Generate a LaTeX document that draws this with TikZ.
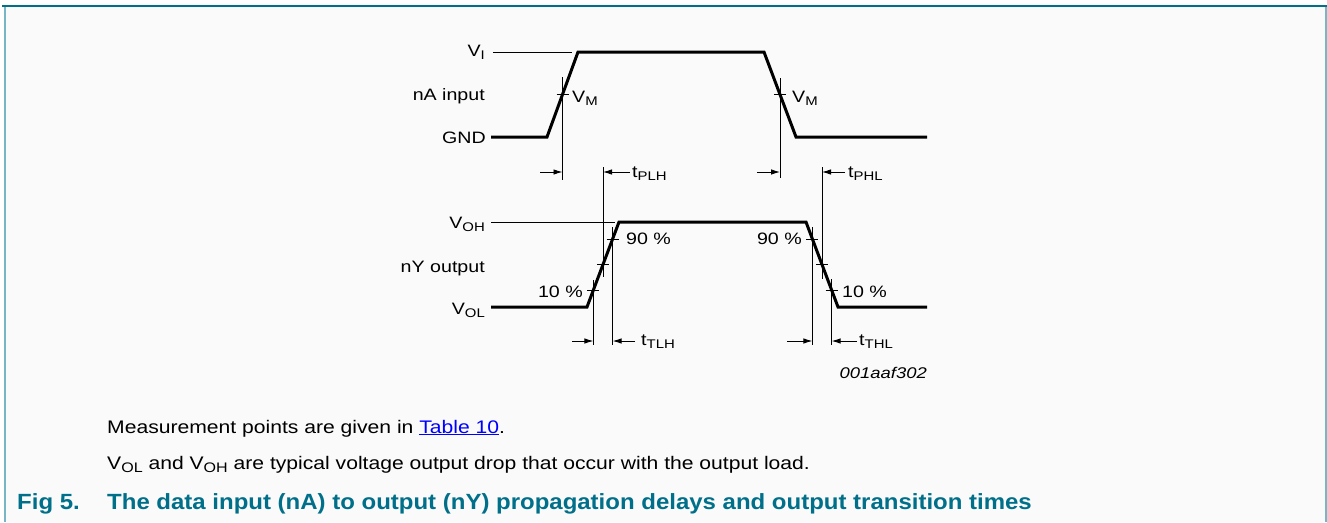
\documentclass[tikz,border=0pt]{standalone}
\usepackage{fontspec}
\setmainfont{Liberation Sans}
\newfontfamily\lblf{Liberation Sans}[FakeStretch=1.19]
\newfontfamily\txtf{Liberation Sans}[FakeStretch=1.16]
\newfontfamily\capf{Liberation Sans}[FakeStretch=1.09]
\usetikzlibrary{arrows.meta,calc}
\definecolor{nxpteal}{RGB}{0,112,138}
\definecolor{edgelight}{RGB}{120,182,198}
\definecolor{linkblue}{RGB}{0,0,255}
\definecolor{panel}{RGB}{250,250,250}
\newcommand\sbx[1]{\raisebox{-0.2em}{\scalebox{0.76}{#1}}}
\begin{document}
\begin{tikzpicture}[x=1pt,y=-1pt,
  wave/.style={line width=3pt, line join=miter},
  thinln/.style={line width=0.9pt},
  meas/.style={line width=0.9pt, -{Latex[length=9pt,width=5.5pt]}},
  lbl/.style={inner sep=0pt, font=\lblf\fontsize{16.5}{18}\selectfont},
  txt/.style={inner sep=0pt, font=\txtf\fontsize{18.2}{20}\selectfont, anchor=base west},
  capt/.style={inner sep=0pt, font=\capf\bfseries\fontsize{22}{24}\selectfont, text=nxpteal, anchor=base west}]
\useasboundingbox (0,0) rectangle (1327,522);
\fill[white] (0,0) rectangle (1327,522);
\fill[panel] (5,6) rectangle (1326,522);
\draw[edgelight, line width=1.5pt] (5,6) -- (5,522);
\draw[edgelight, line width=2pt] (1325.5,6) -- (1325.5,522);
\draw[nxpteal, line width=2pt] (2,6) -- (1327,6);

% input waveform
\coordinate (a0) at (491,137);
\coordinate (a1) at (547,137);
\coordinate (a2) at (578,52);
\coordinate (a3) at (764,52);
\coordinate (a4) at (796,137);
\coordinate (a5) at (927,137);
\coordinate (vi0) at (493,52);
\coordinate (vi1) at (572,52);
\draw[thinln] (vi0) -- (vi1);
\draw[wave] (a0) -- (a1) -- (a2) -- (a3) -- (a4) -- (a5);
\coordinate (m1) at ($(a1)!0.5!(a2)$);
\coordinate (m2) at ($(a3)!0.5!(a4)$);
\draw[thinln] (m1 |- 0,77) -- (m1 |- 0,180);
\draw[thinln] (m2 |- 0,78) -- (m2 |- 0,178);
\draw[thinln] ($(m1)+(-6,0)$) -- ($(m1)+(6,0)$);
\draw[thinln] ($(m2)+(-6,0)$) -- ($(m2)+(6,0)$);

% output waveform
\coordinate (b0) at (491,307);
\coordinate (b1) at (587,307);
\coordinate (b2) at (619,222);
\coordinate (b3) at (806,222);
\coordinate (b4) at (838,307);
\coordinate (b5) at (927,307);
\coordinate (vo0) at (491,222);
\coordinate (vo1) at (615,222);
\draw[thinln] (vo0) -- (vo1);
\draw[wave] (b0) -- (b1) -- (b2) -- (b3) -- (b4) -- (b5);
\coordinate (r9) at ($(b1)!0.8!(b2)$);
\coordinate (r5) at ($(b1)!0.5!(b2)$);
\coordinate (r1) at ($(b1)!0.2!(b2)$);
\coordinate (f9) at ($(b3)!0.2!(b4)$);
\coordinate (f5) at ($(b3)!0.5!(b4)$);
\coordinate (f1) at ($(b3)!0.8!(b4)$);
\foreach \p in {r9,r5,r1,f9,f5,f1}
  \draw[thinln] ($(\p)+(-6,0)$) -- ($(\p)+(6,0)$);
\draw[thinln] (r9 |- 0,227) -- (r9 |- 0,345);
\draw[thinln] (r1 |- 0,280) -- (r1 |- 0,345);
\draw[thinln] (r5 |- 0,167) -- (r5 |- 0,277);
\draw[thinln] (f9 |- 0,227) -- (f9 |- 0,345);
\draw[thinln] (f5 |- 0,167) -- (f5 |- 0,279);
\draw[thinln] (f1 |- 0,279) -- (f1 |- 0,345);

% measurement arrows
\coordinate (p1) at (540,172);
\coordinate (p2) at (630,172);
\coordinate (p3) at (757,172);
\coordinate (p4) at (845,172);
\coordinate (q1) at (572,341);
\coordinate (q2) at (635,341);
\coordinate (q3) at (787,341);
\coordinate (q4) at (857,341);
\draw[meas] (p1) -- (m1 |- p1);
\draw[meas] (p2) -- (r5 |- p2);
\draw[meas] (p3) -- (m2 |- p3);
\draw[meas] (p4) -- (f5 |- p4);
\draw[meas] (q1) -- (r1 |- q1);
\draw[meas] (q2) -- (r9 |- q2);
\draw[meas] (q3) -- (f9 |- q3);
\draw[meas] (q4) -- (f1 |- q4);

% labels
\node[lbl, anchor=base east] (lVI) at (485,56) {V\sbx{I}};
\node[lbl, anchor=base east] (lnA) at (485,100) {nA input};
\node[lbl, anchor=base east] (lGND) at (486,143) {GND};
\node[lbl, anchor=base west] (lVM1) at (572,102) {V\sbx{M}};
\node[lbl, anchor=base west] (lVM2) at (792,102) {V\sbx{M}};
\node[lbl, anchor=base west] (ltPLH) at (632,177) {t\sbx{PLH}};
\node[lbl, anchor=base west] (ltPHL) at (848,177) {t\sbx{PHL}};
\node[lbl, anchor=base east] (lVOH) at (485,228) {V\sbx{OH}};
\node[lbl, anchor=base east] (lnY) at (485,272) {nY output};
\node[lbl, anchor=base east] (lVOL) at (485,314) {V\sbx{OL}};
\node[lbl, anchor=base west] (l90r) at (626,244) {90 \%};
\node[lbl, anchor=base east] (l10r) at (583,297) {10 \%};
\node[lbl, anchor=base east] (l90f) at (802,244) {90 \%};
\node[lbl, anchor=base west] (l10f) at (842,297) {10 \%};
\node[lbl, anchor=base west] (ltTLH) at (641,345) {t\sbx{TLH}};
\node[lbl, anchor=base west] (ltTHL) at (859,345) {t\sbx{THL}};
\node[lbl, anchor=base east, font=\lblf\itshape\fontsize{15.5}{17}\selectfont] (code) at (927,378) {001aaf302};

% text
\node[txt] (n1) at (107,433) {Measurement points are given in \textcolor{linkblue}{\underline{Table 10}}.};
\node[txt] (n2) at (107,469) {V\sbx{OL} and V\sbx{OH} are typical voltage output drop that occur with the output load.};
\node[capt] (fig) at (17,509) {Fig 5.};
\node[capt] (cap) at (107,509) {The data input (nA) to output (nY) propagation delays and output transition times};
\end{tikzpicture}
\end{document}
